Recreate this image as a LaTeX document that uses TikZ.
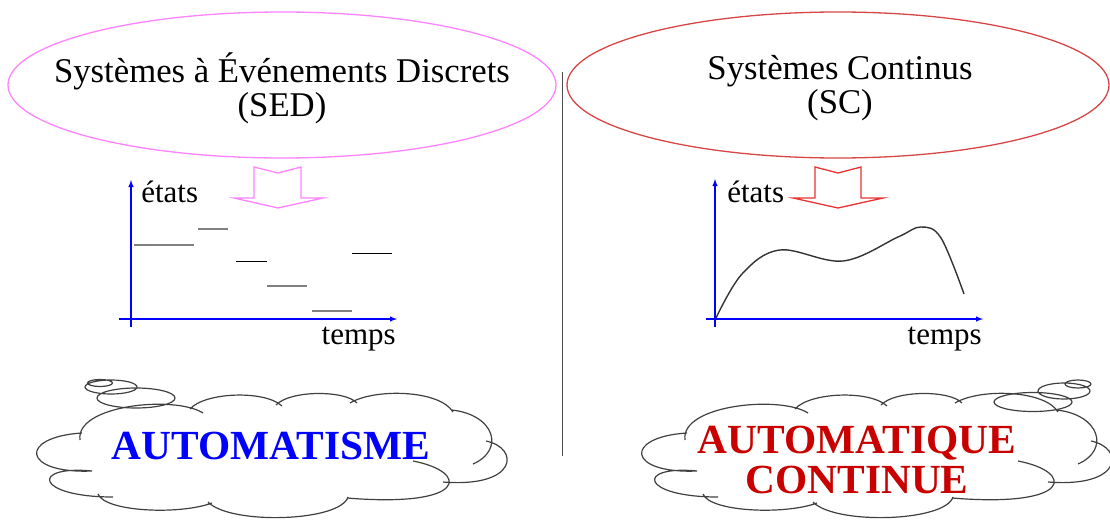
\documentclass[tikz,border=0pt]{standalone}
\usepackage{fontspec}
\setmainfont{Liberation Serif}
\usepackage{xcolor}
\usepackage{tikz}
\usetikzlibrary{arrows}
\usetikzlibrary{calc}
\usetikzlibrary{positioning}
\usetikzlibrary{shapes.geometric}

\definecolor{rose}{RGB}{255,130,255}
\definecolor{rougeclair}{RGB}{215,70,70}
\definecolor{rougefleche}{RGB}{232,50,50}
\definecolor{rougefonce}{RGB}{200,0,0}

\begin{document}
\begin{tikzpicture}[x=1pt,y=-1pt,semithick]
	\tikzstyle{titre}=[font=\fontsize{34.7}{34}\selectfont, align=center]
	\tikzstyle{bulle}=[draw, ellipse, line width=1.3pt, minimum height=146pt]
	\tikzstyle{axe}=[blue, line width=1.4pt, -latex]
	\tikzstyle{lbl}=[inner sep=0pt, font=\fontsize{31}{31}\selectfont]
	\tikzstyle{fleche}=[line width=1.3pt, line join=miter]
	\tikzstyle{nuage}=[draw=black!75, line width=1.2pt]
	\tikzstyle{gros}=[inner sep=0pt, align=center, font=\bfseries\fontsize{41.4}{40}\selectfont]
	\useasboundingbox (0,0) rectangle (1110,519);

	% les deux familles
	\node[bulle, draw=rose, minimum width=548pt] (sed) at (282,85) {};
	\node[titre] (sedtxt) at (282,88) {Systèmes à Événements Discrets\\(SED)};
	\node[bulle, draw=rougeclair, minimum width=542pt] (sc) at (838,85) {};
	\node[titre] (sctxt) at (840,88) {Systèmes Continus\\(SC)};

	\coordinate (hautsep) at (562,72);
	\coordinate (bassep) at (562,456);
	\draw[black!70, line width=1pt] (hautsep) -- (bassep);

	% fleches creuses
	\draw[fleche, rose] (254,167) -- (278,173) -- (301,167) -- (301,198) -- (323,198)
		-- (278,208) -- (234,198) -- (254,198) -- cycle;
	\draw[fleche, rougefleche] (815,167) -- (838,173) -- (861,167) -- (861,198) -- (883,198)
		-- (838,208) -- (793,198) -- (815,198) -- cycle;

	% axes SED
	\coordinate (yL0) at (131,327);
	\coordinate (yL) at (131,180);
	\coordinate (xL0) at (119,319);
	\coordinate (xL) at (397,319);
	\draw[axe] (yL0) -- (yL);
	\draw[axe] (xL0) -- (xL);
	\node[lbl, below right=1pt and 10pt of yL] (etatsL) {états};
	\node[lbl, below left=8pt and 1pt of xL] (tempsL) {temps};

	\foreach \xa/\xb/\yy/\cc/\ep in {134/194/245/gray/1.3, 198/228/229/gray/1.3, 236/267/261/black/1,
		267/307/286/gray/1.3, 312/352/311/gray/1.3, 352/392/253/black/1}{
		\draw[\cc, line width=\ep pt] (\xa,\yy) -- (\xb,\yy);
	}

	% axes SC
	\coordinate (yR0) at (715,327);
	\coordinate (yR) at (715,179);
	\coordinate (xR0) at (706,319);
	\coordinate (xR) at (983,319);
	\draw[axe] (yR0) -- (yR);
	\draw[axe] (xR0) -- (xR);
	\node[lbl, below right=2pt and 12pt of yR] (etatsR) {états};
	\node[lbl, below left=8pt and 1pt of xR] (tempsR) {temps};

	\draw[black!80, line width=1.4pt] plot[smooth, tension=0.6] coordinates {(716,318)
		(742,274) (780,250) (843,261) (898,237) (921,227) (941,238) (964,294)};

	% nuages
	\foreach \dx in {0,605}{
		\begin{scope}[shift={(\dx,0)}]
			\draw[nuage] (92,471) .. controls (22,474) and (18,437) .. (82,433)
				(80,440) .. controls (75,405) and (175,395) .. (203,413)
				(190,409) .. controls (205,392) and (265,390) .. (282,406)
				(276,405) .. controls (290,390) and (345,390) .. (357,403)
				(350,403) .. controls (375,388) and (440,390) .. (453,412)
				(452,410) .. controls (495,415) and (505,450) .. (473,464)
				(486,441) .. controls (520,448) and (518,488) .. (443,482)
				(413,461) .. controls (470,472) and (468,508) .. (347,498)
				(348,497) .. controls (340,522) and (230,525) .. (208,502)
				(212,503) .. controls (180,515) and (105,512) .. (98,494)
				(113,497) .. controls (35,497) and (30,465) .. (92,471);
		\end{scope}
	}
	\draw[nuage] (100,383) ellipse (12.5pt and 3.5pt)
		(111,387) ellipse (26pt and 7pt)
		(136,398) ellipse (39pt and 10pt);
	\draw[nuage] (1078,384) ellipse (13pt and 4pt)
		(1064,391) ellipse (26pt and 8pt)
		(1033,402) ellipse (39pt and 9.5pt);

	\node[gros, text=blue, anchor=base] (automatisme) at (271,459) {AUTOMATISME};
	\node[gros, text=rougefonce] (automatique) at (857,460) {AUTOMATIQUE\\CONTINUE};
\end{tikzpicture}
\end{document}
